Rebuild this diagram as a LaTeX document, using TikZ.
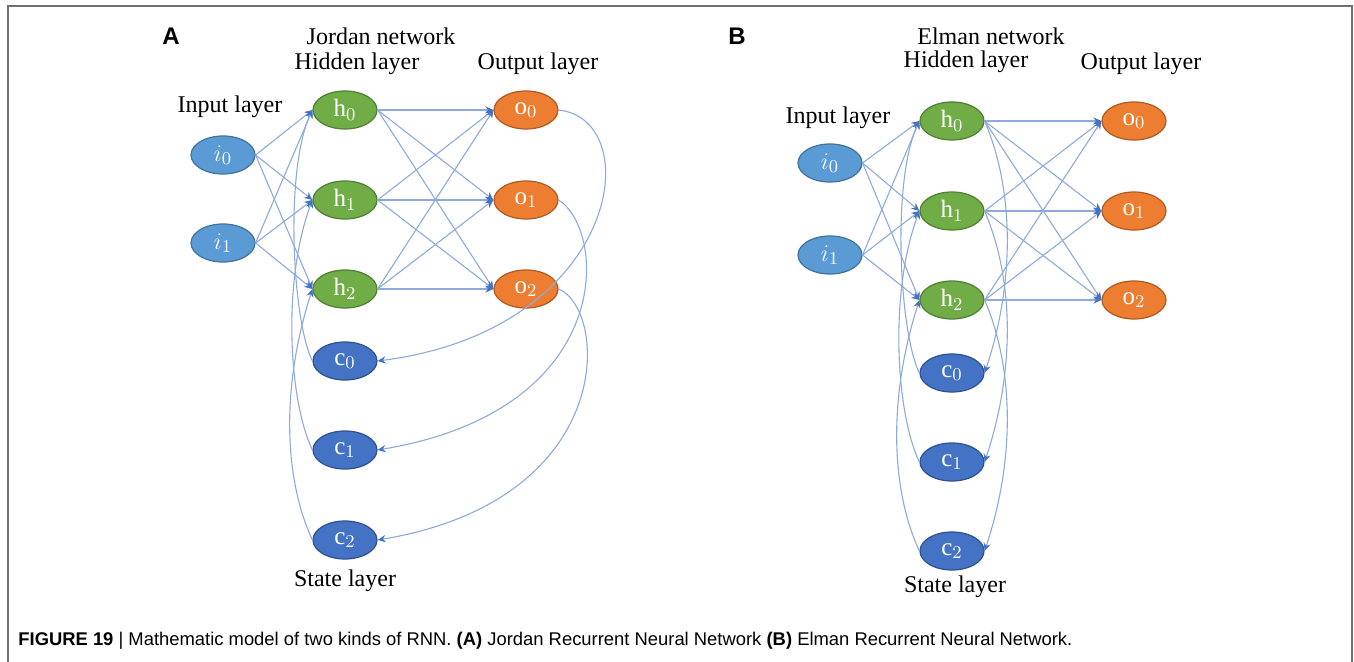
\documentclass[tikz,border=0pt]{standalone}
\usepackage{fontspec}
\setmainfont{Liberation Serif}
\newfontfamily\capfont{Liberation Sans}
\usetikzlibrary{arrows.meta,shapes.geometric}
\definecolor{inblue}{HTML}{5B9BD5}
\definecolor{inblueD}{HTML}{41719C}
\definecolor{hgreen}{HTML}{70AD47}
\definecolor{hgreenD}{HTML}{507E32}
\definecolor{oorange}{HTML}{ED7D31}
\definecolor{oorangeD}{HTML}{AE5A21}
\definecolor{cblue}{HTML}{4472C4}
\definecolor{cblueD}{HTML}{2F528F}
\definecolor{edgeblue}{HTML}{8EA9DB}
\definecolor{tipblue}{HTML}{4472C4}
\definecolor{framegray}{HTML}{707070}
\begin{document}
\begin{tikzpicture}[x=0.5pt,y=-0.5pt,
  neuron/.style={ellipse, minimum width=32pt, minimum height=19pt, inner sep=0pt, line width=0.6pt, text=white, font=\fontsize{12.5}{13}\selectfont},
  inn/.style={neuron, fill=inblue, draw=inblueD},
  hid/.style={neuron, fill=hgreen, draw=hgreenD},
  outn/.style={neuron, fill=oorange, draw=oorangeD},
  stn/.style={neuron, fill=cblue, draw=cblueD},
  conn/.style={draw=edgeblue, line width=0.55pt, -{Stealth[length=4pt,width=3.6pt,color=tipblue]}},
  lbl/.style={inner sep=0pt, font=\fontsize{12}{14}\selectfont},
  panel/.style={inner sep=0pt, font=\fontsize{12}{14}\selectfont\capfont\bfseries}
]
\useasboundingbox (0,0) rectangle (1354,662);
\draw[framegray, line width=0.8pt] (8,700) -- (8,6) -- (1352,6) -- (1352,700);

% ---------------- Panel A ----------------
\node[panel] (PA) at (171,36) {A};
\node[lbl] (jt) at (381,36) {Jordan network};
\node[lbl] (ahl) at (357,64) {Hidden layer};
\node[lbl] (aol) at (538,64) {Output layer};
\node[lbl] (ail) at (230,107) {Input layer};
\node[lbl] (asl) at (345,581) {State layer};

\node[inn] (ai0) at (223,155) {$i_0$};
\node[inn] (ai1) at (223,243) {$i_1$};
\node[hid] (ah0) at (345,110) {$\mathrm{h}_0$};
\node[hid] (ah1) at (345,200) {$\mathrm{h}_1$};
\node[hid] (ah2) at (345,289) {$\mathrm{h}_2$};
\node[outn] (ao0) at (526,110) {$\mathrm{o}_0$};
\node[outn] (ao1) at (526,200) {$\mathrm{o}_1$};
\node[outn] (ao2) at (526,289) {$\mathrm{o}_2$};
\node[stn] (ac0) at (345,361) {$\mathrm{c}_0$};
\node[stn] (ac1) at (345,450) {$\mathrm{c}_1$};
\node[stn] (ac2) at (345,540) {$\mathrm{c}_2$};

\foreach \i in {0,1}{\foreach \h in {0,1,2}{\draw[conn] (ai\i.east) -- (ah\h.west);}}
\foreach \h in {0,1,2}{\foreach \o in {0,1,2}{\draw[conn] (ah\h.east) -- (ao\o.west);}}
\draw[conn] (ao0.east) .. controls +(90,10) and +(242,-31) .. (ac0.east);
\draw[conn] (ao1.east) .. controls +(48,30) and +(240,-40) .. (ac1.east);
\draw[conn] (ao2.east) .. controls +(50,21) and +(240,-40) .. (ac2.east);
\draw[conn] (ac0.west) .. controls +(-20,-40) and +(-28,60) .. (ah0.west);
\draw[conn] (ac1.west) .. controls +(-24,-50) and +(-30,80) .. (ah1.west);
\draw[conn] (ac2.west) .. controls +(-28,-60) and +(-32,100) .. (ah2.west);

% ---------------- Panel B ----------------
\node[panel] (PB) at (737,36) {B};
\node[lbl] (et) at (991,36) {Elman network};
\node[lbl] (bhl) at (966,62) {Hidden layer};
\node[lbl] (bol) at (1141,64) {Output layer};
\node[lbl] (bil) at (838,118) {Input layer};
\node[lbl] (bsl) at (955,587) {State layer};

\node[inn] (bi0) at (830,163) {$i_0$};
\node[inn] (bi1) at (830,255) {$i_1$};
\node[hid] (bh0) at (952,121) {$\mathrm{h}_0$};
\node[hid] (bh1) at (952,211) {$\mathrm{h}_1$};
\node[hid] (bh2) at (952,300) {$\mathrm{h}_2$};
\node[outn] (bo0) at (1134,121) {$\mathrm{o}_0$};
\node[outn] (bo1) at (1134,211) {$\mathrm{o}_1$};
\node[outn] (bo2) at (1134,300) {$\mathrm{o}_2$};
\node[stn] (bc0) at (952,373) {$\mathrm{c}_0$};
\node[stn] (bc1) at (952,462) {$\mathrm{c}_1$};
\node[stn] (bc2) at (952,551) {$\mathrm{c}_2$};

\foreach \i in {0,1}{\foreach \h in {0,1,2}{\draw[conn] (bi\i.east) -- (bh\h.west);}}
\foreach \h in {0,1,2}{\foreach \o in {0,1,2}{\draw[conn] (bh\h.east) -- (bo\o.west);}}
\draw[conn] (bh0.east) .. controls +(30,70) and +(30,-90) .. (bc0.east);
\draw[conn] (bh1.east) .. controls +(30,70) and +(30,-90) .. (bc1.east);
\draw[conn] (bh2.east) .. controls +(30,70) and +(30,-90) .. (bc2.east);
\draw[conn] (bc0.west) .. controls +(-20,-40) and +(-28,60) .. (bh0.west);
\draw[conn] (bc1.west) .. controls +(-24,-50) and +(-30,80) .. (bh1.west);
\draw[conn] (bc2.west) .. controls +(-28,-60) and +(-32,100) .. (bh2.west);

% ---------------- Caption ----------------
\node[anchor=west, inner sep=0pt, font=\capfont\fontsize{9.2}{11}\selectfont] (cap) at (18,641)
  {\textbf{FIGURE 19} | Mathematic model of two kinds of RNN. \textbf{(A)} Jordan Recurrent Neural Network \textbf{(B)} Elman Recurrent Neural Network.};
\end{tikzpicture}
\end{document}
